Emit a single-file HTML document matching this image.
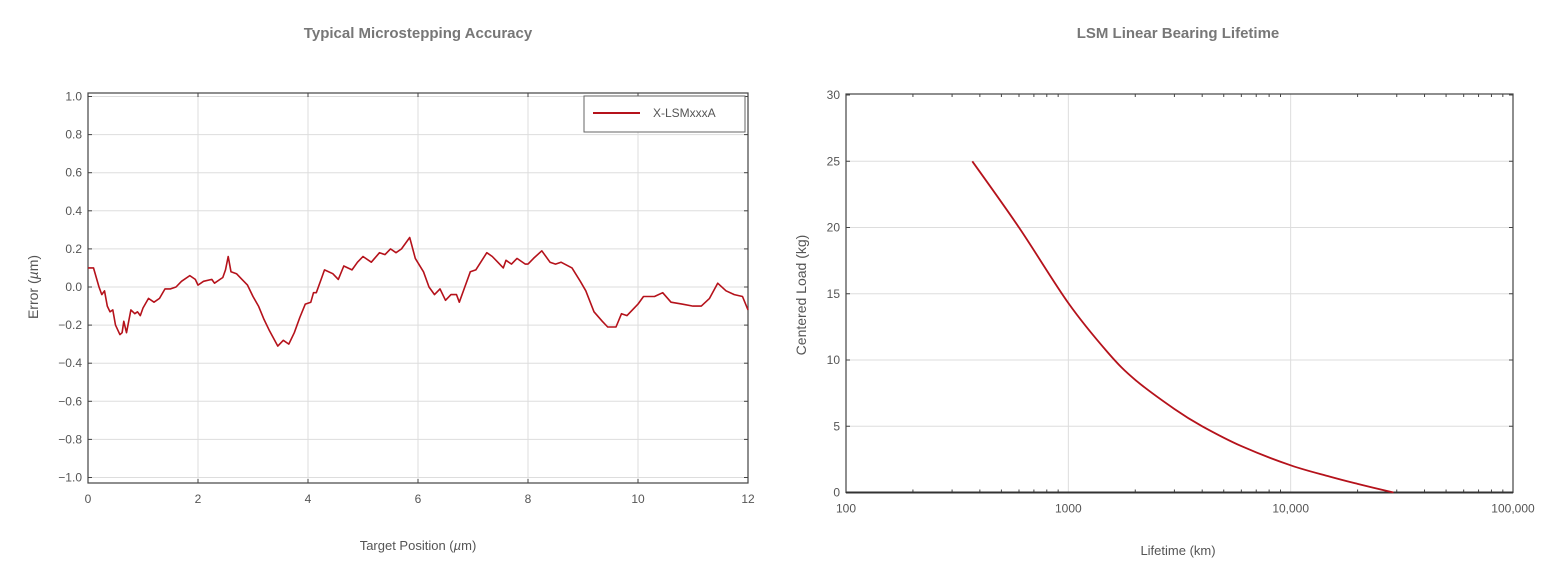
<!DOCTYPE html>
<html><head><meta charset="utf-8"><style>
html,body{margin:0;padding:0;background:#fff;}
svg{display:block;font-family:"Liberation Sans",sans-serif;}
</style></head><body>
<svg id="s" width="1562" height="582" viewBox="0 0 1562 582" xmlns="http://www.w3.org/2000/svg">
<rect width="1562" height="582" fill="#fff"/>
<text x="418" y="38" text-anchor="middle" font-size="15" font-weight="bold" fill="#777">Typical Microstepping Accuracy</text>
<text x="1178" y="38" text-anchor="middle" font-size="15" font-weight="bold" fill="#777">LSM Linear Bearing Lifetime</text>
<g id="L"></g>
<g id="R"></g>
<text x="418" y="550" text-anchor="middle" font-size="13" fill="#555">Target Position (<tspan font-style="italic">µ</tspan>m)</text>
<text transform="translate(38,287) rotate(-90)" text-anchor="middle" font-size="14" fill="#555">Error (<tspan font-style="italic">µ</tspan>m)</text>
<text x="1178" y="555" text-anchor="middle" font-size="13" fill="#555">Lifetime (km)</text>
<text transform="translate(806,295) rotate(-90)" text-anchor="middle" font-size="14" fill="#555">Centered Load (kg)</text>
</svg>
<script>
var NS="http://www.w3.org/2000/svg";
function el(p,t,a,txt){var e=document.createElementNS(NS,t);for(var k in a)e.setAttribute(k,a[k]);if(txt!=null)e.textContent=txt;p.appendChild(e);return e;}
function spline(c){var q="M"+c[0][0].toFixed(1)+","+c[0][1].toFixed(1);
for(var i=1;i<c.length;i++){var P0=c[Math.max(i-2,0)],P1=c[i-1],P2=c[i],P3=c[Math.min(i+1,c.length-1)];
 q+="C"+(P1[0]+(P2[0]-P0[0])/6).toFixed(1)+","+(P1[1]+(P2[1]-P0[1])/6).toFixed(1)+" "+(P2[0]-(P3[0]-P1[0])/6).toFixed(1)+","+(P2[1]-(P3[1]-P1[1])/6).toFixed(1)+" "+P2[0].toFixed(1)+","+P2[1].toFixed(1);}
return q;}
// LEFT
var L=document.getElementById("L");
var x0=88,x1=748,yT=93,yB=483;
function lx(v){return x0+(x1-x0)*v/12;}
function ly(v){return 287-v*190.5;}
for(var i=0;i<=10;i++){var v=-1+0.2*i,y=ly(v);
 el(L,"line",{x1:x0,x2:x1,y1:y,y2:y,stroke:"#ddd","stroke-width":1});
 el(L,"line",{x1:x0,x2:x0+4,y1:y,y2:y,stroke:"#444"});
 el(L,"line",{x1:x1-4,x2:x1,y1:y,y2:y,stroke:"#444"});
 el(L,"text",{x:x0-6,y:y+4,"text-anchor":"end","font-size":12,fill:"#555"},v.toFixed(1).replace("-","−"));}
for(var i=0;i<=6;i++){var x=lx(2*i);
 if(i>0&&i<6)el(L,"line",{x1:x,x2:x,y1:yT,y2:yB,stroke:"#ddd"});
 el(L,"line",{x1:x,x2:x,y1:yB-4,y2:yB,stroke:"#444"});
 el(L,"line",{x1:x,x2:x,y1:yT,y2:yT+4,stroke:"#444"});
 el(L,"text",{x:x,y:yB+20,"text-anchor":"middle","font-size":12,fill:"#555"},String(2*i));}
el(L,"rect",{x:x0,y:yT,width:x1-x0,height:yB-yT,fill:"none",stroke:"#444","stroke-width":1.2});
var d=[0,0.10,0.1,0.1,0.2,0.0,0.25,-0.04,0.3,-0.02,0.35,-0.1,0.4,-0.13,0.45,-0.12,0.5,-0.2,0.58,-0.25,0.62,-0.24,0.65,-0.18,0.7,-0.24,0.78,-0.12,0.85,-0.14,0.9,-0.13,0.95,-0.15,1.0,-0.11,1.1,-0.06,1.2,-0.08,1.3,-0.06,1.4,-0.01,1.5,-0.01,1.6,0.0,1.7,0.03,1.85,0.06,1.95,0.04,2.0,0.01,2.1,0.03,2.25,0.04,2.3,0.02,2.4,0.04,2.45,0.05,2.5,0.09,2.55,0.16,2.6,0.08,2.7,0.07,2.8,0.04,2.9,0.01,3.0,-0.05,3.1,-0.1,3.2,-0.17,3.3,-0.23,3.45,-0.31,3.55,-0.28,3.65,-0.3,3.75,-0.24,3.85,-0.16,3.95,-0.09,4.05,-0.08,4.1,-0.03,4.15,-0.03,4.25,0.05,4.3,0.09,4.45,0.07,4.55,0.04,4.65,0.11,4.8,0.09,4.9,0.13,5.0,0.16,5.15,0.13,5.3,0.18,5.4,0.17,5.5,0.2,5.6,0.18,5.7,0.2,5.85,0.26,5.95,0.15,6.1,0.08,6.2,0.0,6.3,-0.04,6.4,-0.01,6.5,-0.07,6.6,-0.04,6.7,-0.04,6.75,-0.08,6.85,0.0,6.95,0.08,7.05,0.09,7.25,0.18,7.35,0.16,7.45,0.13,7.55,0.1,7.6,0.14,7.7,0.12,7.8,0.15,7.95,0.12,8.0,0.12,8.1,0.15,8.25,0.19,8.4,0.13,8.5,0.12,8.6,0.13,8.8,0.1,8.95,0.03,9.05,-0.02,9.2,-0.13,9.35,-0.18,9.45,-0.21,9.6,-0.21,9.7,-0.14,9.8,-0.15,10.0,-0.09,10.1,-0.05,10.3,-0.05,10.45,-0.03,10.6,-0.08,10.8,-0.09,11.0,-0.1,11.15,-0.1,11.3,-0.06,11.45,0.02,11.6,-0.02,11.75,-0.04,11.9,-0.05,12.0,-0.12];
var p="";for(var i=0;i<d.length;i+=2)p+=(i?"L":"M")+lx(d[i]).toFixed(1)+","+ly(d[i+1]).toFixed(1);
el(L,"path",{d:p,fill:"none",stroke:"#b5121b","stroke-width":1.6,"stroke-linejoin":"round"});
el(L,"rect",{x:584,y:96,width:161,height:36,fill:"#fff",stroke:"#666"});
el(L,"line",{x1:593,x2:640,y1:113,y2:113,stroke:"#b5121b","stroke-width":2});
el(L,"text",{x:653,y:117,"font-size":12,fill:"#555"},"X-LSMxxxA");
// RIGHT
var R=document.getElementById("R");
var a0=846,a1=1513,bT=94,bB=492.5;
function rx(v){return a0+(a1-a0)*(Math.log10(v)-2)/3;}
function ry(v){return bB-(bB-95)*v/30;}
for(var i=0;i<=6;i++){var v=5*i,y=ry(v);
 if(i>0&&i<6)el(R,"line",{x1:a0,x2:a1,y1:y,y2:y,stroke:"#ddd"});
 el(R,"line",{x1:a0,x2:a0+4,y1:y,y2:y,stroke:"#444"});
 el(R,"line",{x1:a1-4,x2:a1,y1:y,y2:y,stroke:"#444"});
 el(R,"text",{x:a0-6,y:y+4,"text-anchor":"end","font-size":12,fill:"#555"},String(v));}
var labs=["100","1000","10,000","100,000"];
for(var e=0;e<=3;e++){var x=rx(Math.pow(10,e+2));
 if(e>0&&e<3)el(R,"line",{x1:x,x2:x,y1:bT,y2:bB,stroke:"#ddd"});
 el(R,"text",{x:x,y:bB+20,"text-anchor":"middle","font-size":12,fill:"#555"},labs[e]);
 if(e<3)for(var m=2;m<=9;m++){var xm=rx(m*Math.pow(10,e+2));
  el(R,"line",{x1:xm,x2:xm,y1:bB-3,y2:bB,stroke:"#444"});
  el(R,"line",{x1:xm,x2:xm,y1:bT,y2:bT+3,stroke:"#444"});}}
el(R,"rect",{x:a0,y:bT,width:a1-a0,height:bB-bT,fill:"none",stroke:"#444","stroke-width":1.2});
el(R,"line",{x1:a0,x2:a1,y1:bB,y2:bB,stroke:"#333","stroke-width":2});
var vd=[[370,25],[600,20],[1000,14.3],[1500,10.6],[2000,8.5],[3000,6.3],[4000,5],[6000,3.5],[10000,2.05],[15000,1.2],[20000,0.65],[29000,0]];
var c=vd.map(function(a){return [rx(a[0]),ry(a[1])];});
el(R,"path",{d:spline(c),fill:"none",stroke:"#b5121b","stroke-width":1.8});
</script>
</body></html>
